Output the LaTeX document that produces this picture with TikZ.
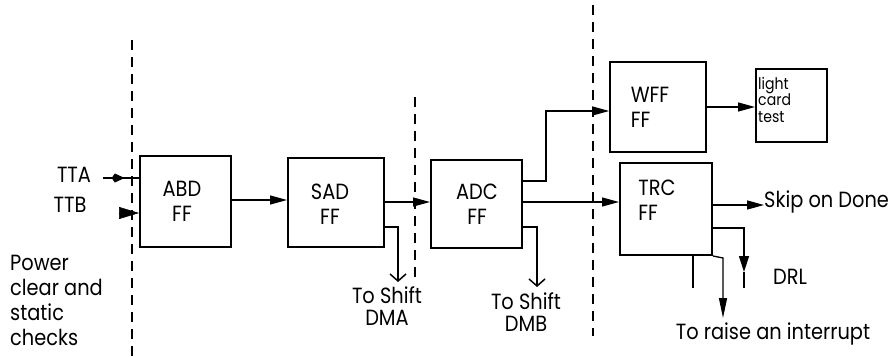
\documentclass[tikz,border=0pt]{standalone}
\usepackage{fontspec}
\setmainfont{Poppins}[FakeStretch=0.88]
\usetikzlibrary{arrows.meta,decorations.markings}
\begin{document}
\begin{tikzpicture}[x=1pt,y=-1pt,
  every node/.style={font=\fontsize{22}{25}\selectfont},
  box/.style={draw,line width=2pt,inner sep=0pt},
  txt/.style={align=center,inner sep=0pt},
  conn/.style={line width=1.3pt},
  tri/.style={conn,-{Triangle[length=17pt,width=9pt]}},
  barb/.style={conn,-{Straight Barb[length=7pt,width=16pt,line width=1.5pt]}},
  sep/.style={line width=2.5pt,dash pattern=on 10pt off 7pt}]
\useasboundingbox (0,0) rectangle (896,356);
% separators
\coordinate (s1t) at (132,40); \coordinate (s1b) at (132,356);
\coordinate (s2t) at (415,97); \coordinate (s2b) at (415,283);
\coordinate (s3t) at (593,5);  \coordinate (s3b) at (593,336);
\draw[sep] (s1t) -- (s1b);
\draw[sep] (s2t) -- (s2b);
\draw[sep] (s3t) -- (s3b);
% boxes
\node[box,minimum width=91pt,minimum height=91pt] (abd) at (185.5,201.5) {};
\node[txt] (abdt) at (182,201.5) {ABD\\FF};
\node[box,minimum width=96pt,minimum height=89pt] (sad) at (336,202.5) {};
\node[txt] (sadt) at (330,204) {SAD\\FF};
\node[box,minimum width=91pt,minimum height=88pt] (adc) at (476.5,204) {};
\node[txt] (adct) at (477,204) {ADC\\FF};
\node[box,line width=1.6pt,minimum width=96pt,minimum height=90pt] (wff) at (658,107) {};
\node[txt,align=left] (wfft) at (650,107) {WFF\\FF};
\node[box,minimum width=71pt,minimum height=73pt] (lct) at (791.5,105.5) {};
\node[align=left,inner sep=0pt,font=\fontsize{16}{16.5}\selectfont,anchor=north west] (lctt) at (758,77) {light\\card\\test};
\node[box,minimum width=92pt,minimum height=92pt] (trc) at (666,209) {};
\node[txt,align=left] (trct) at (657,200) {TRC\\FF};
% inputs
\node[inner sep=0pt] (tta) at (74,175) {TTA};
\node[inner sep=0pt] (ttb) at (70,205) {TTB};
\coordinate (ttas) at (103,178);
\draw[conn,decoration={markings,mark=at position 0.6 with {\arrow{Kite[length=13pt,width=9pt]}}},postaction=decorate] (ttas) -- (abd.west |- ttas);
\coordinate (ttbs) at (119,213);
\draw[line width=0.5pt,-{Triangle[length=20pt,width=12pt]}] (ttbs) -- (abd.west |- ttbs);
\node[align=left,inner sep=0pt,anchor=north west] (pwr) at (10,255) {Power\\ clear and\\static\\checks};
% chain
\draw[tri] (abd.east |- 0,200) -- (sad.west |- 0,200);
\draw[tri] (sad.east |- 0,202) -- (adc.west |- 0,202);
\coordinate (dma) at (398,282);
\draw[barb] (sad.east |- 0,227) -| (dma);
\node[txt,font=\fontsize{22}{22}\selectfont] (dmat) at (387,306) {To Shift\\DMA};
\coordinate (dmb) at (537,287);
\draw[barb] (adc.east |- 0,227) -| (dmb);
\node[txt,font=\fontsize{22}{22}\selectfont] (dmbt) at (526,312) {To Shift\\DMB};
\coordinate (wb) at (546,181);
\draw[tri] (adc.east |- wb) -- (wb) |- (wff.west |- 0,111);
\draw[tri] (adc.east |- 0,202) -- (trc.west |- 0,202);
\draw[tri] (wff.east |- 0,107) -- (lct.west |- 0,107);
% TRC outputs
\node[inner sep=0pt,anchor=west] (skip) at (764,202) {Skip on Done};
\draw[tri] (trc.east |- 0,205) -- (skip.west |- 0,205);
\coordinate (drla) at (744,272); \coordinate (drle) at (744,288);
\draw[conn,-{Triangle[length=16pt,width=10pt]}] (trc.east |- 0,228) -| (drla);
\draw[conn] (drla) -- (drle);
\node[inner sep=0pt] (drl) at (790,277) {DRL};
\coordinate (stub) at (693,288);
\draw[conn] (trc.south -| stub) -- (stub);
\coordinate (ibend) at (723,258); \coordinate (iend) at (723,318);
\draw[conn,-{Triangle[length=20pt,width=8pt]}] (trc.south east) -- (ibend) -- (iend);
\node[inner sep=0pt] (intr) at (773,334) {To raise an interrupt};
\end{tikzpicture}
\end{document}
